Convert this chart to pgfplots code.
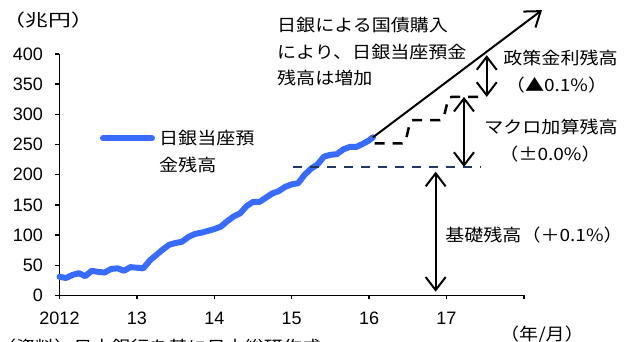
\documentclass[border=0pt]{standalone}
\usepackage{fontspec}
\usepackage{pgfplots}
\usepackage{pgfplotstable}
\pgfplotsset{compat=1.18}
\usetikzlibrary{arrows.meta}
\setmainfont{Noto Sans CJK JP}[FakeStretch=1.12]
\newfontfamily\numfont{Liberation Sans}

\definecolor{boj}{RGB}{56,107,255}
\definecolor{navy}{RGB}{31,56,100}

% BoJ current account balance, trillion yen, month index from Jan 2012
\pgfplotstableread{
m v
0 31
1 29
2 34
3 37
4 32
5 41
6 39
7 38
8 44
9 45
10 41
11 47
12 46
13 45
14 58
15 67
16 76
17 84
18 87
19 89
20 97
21 102
22 104
23 107
24 110
25 114
26 123
27 131
28 136
29 148
30 155
31 155
32 162
33 169
34 173
35 180
36 184
37 186
38 200
39 210
40 217
41 230
42 233
43 234
44 242
45 246
46 246
47 251
48 257
48.6 262
}\balance

\begin{document}
\begin{tikzpicture}[x=1pt,y=1pt,font=\fontsize{17}{20}\selectfont]
\useasboundingbox (0,0) rectangle (625,342);
\begin{axis}[
  at={(59.5pt,46.5pt)}, anchor=south west,
  width=464.4pt, height=241.5pt, scale only axis,
  xmin=0, xmax=6, ymin=0, ymax=400,
  axis lines=left, axis line style={line width=1.5pt, -},
  xtick={0,...,6}, xticklabels={2012,13,14,15,16,17,{}},
  ytick={0,50,...,400},
  tick align=outside, major tick length=4pt,
  tick style={black, line width=1.5pt},
  /pgf/number format/assume math mode=true,
  ticklabel style={font=\numfont\fontsize{18}{20}\selectfont},
  xticklabel style={yshift=-9pt},
  yticklabel style={xshift=-9pt},
  clip=false,
]
\addplot[boj, line width=6pt, line join=round, line cap=round]
  table[x expr=\thisrow{m}/12, y=v] {\balance};

% outlook arrow
\draw[line width=2pt, -{Straight Barb[length=14pt,width=20pt]}]
  (axis cs:4.05,262) -- (axis cs:6.234,472.7);
% stepped path of the balance
\draw[line width=2.5pt, dash pattern=on 10pt off 8pt, rounded corners=3pt]
  (axis cs:4.07,252) -- (axis cs:4.465,252) -- (axis cs:4.535,290.5)
  -- (axis cs:4.955,290.5) -- (axis cs:5.03,329) -- (axis cs:5.46,329);
% basic balance level
\draw[navy, line width=1.5pt, dash pattern=on 9pt off 8pt]
  (axis cs:3.02,213) -- (axis cs:5.45,213);
% tier spans
\begin{scope}[line width=2pt, {Straight Barb[length=13pt,width=20pt]}-{Straight Barb[length=13pt,width=20pt]}]
\draw (axis cs:5.52,398) -- (axis cs:5.52,329);
\draw (axis cs:5.226,329) -- (axis cs:5.226,213);
\draw (axis cs:4.86,205) -- (axis cs:4.86,6.3);
\end{scope}
\end{axis}

% legend
\draw[boj, line width=6pt, line cap=round] (103,203.7) -- (152,203.7);
\node[anchor=west, inner sep=0] at (159,204) {日銀当座預};
\node[anchor=west, inner sep=0] at (159,177) {金残高};

% labels
\node[inner sep=0, xscale=1.2, transform shape] at (48,321.5) {（兆円）};
\node[anchor=west, inner sep=0] at (277,317) {日銀による国債購入};
\node[anchor=west, inner sep=0] at (277,290) {により、日銀当座預金};
\node[anchor=west, inner sep=0] at (277,264) {残高は増加};
\node[inner sep=0] at (560.5,283.7) {政策金利残高};
\node[inner sep=0] at (556.5,257) {（▲0.1\%）};
\node[inner sep=0] at (551,215.3) {マクロ加算残高};
\node[inner sep=0] at (550,188) {（±0.0\%）};
\node[inner sep=0] at (534,107) {基礎残高（＋0.1\%）};
\node[inner sep=0] at (542,7) {（年/月）};
\node[anchor=west, inner sep=0] at (-3,-5) {（資料）日本銀行を基に日本総研作成};
\end{tikzpicture}
\end{document}
